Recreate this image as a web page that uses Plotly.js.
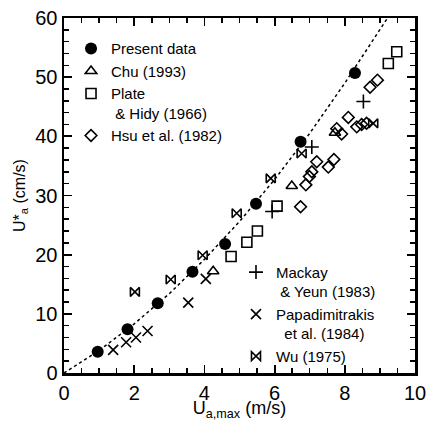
<!DOCTYPE html>
<html>
<head>
<meta charset="utf-8">
<script src="https://cdn.plot.ly/plotly-3.0.1.min.js"></script>
<style>html,body{margin:0;padding:0;background:#fff}#chart{width:429px;height:421px}</style>
</head>
<body>
<div id="chart"></div>
<script>
// Present data (filled circles)
const presentX = [0.96, 1.81, 2.67, 3.66, 4.59, 5.47, 6.74, 8.29];
const presentY = [3.6, 7.4, 11.8, 17.1, 21.8, 28.6, 39.1, 50.7];
// Chu (1993)
const chuX = [4.25, 6.49, 7.72];
const chuY = [17.2, 31.6, 40.6];
// Plate & Hidy (1966)
const plateX = [4.76, 5.21, 5.51, 6.07, 9.24, 9.48];
const plateY = [19.7, 22.1, 24.0, 28.2, 52.3, 54.3];
// Hsu et al. (1982)
const hsuX = [6.74, 6.89, 6.99, 7.06, 7.20, 7.53, 7.69, 7.77, 7.91, 8.10, 8.34, 8.48, 8.62, 8.72, 8.93];
const hsuY = [28.1, 31.8, 33.2, 34.0, 35.7, 34.8, 36.1, 41.3, 40.4, 43.2, 41.6, 42.0, 42.2, 48.3, 49.5];
// Mackay & Yeun (1983)
const mackayX = [5.93, 7.06, 8.53];
const mackayY = [27.3, 38.2, 45.9];
// Papadimitrakis et al. (1984)
const papaX = [1.40, 1.77, 2.05, 2.38, 3.54, 4.04];
const papaY = [3.9, 5.2, 6.0, 7.1, 11.9, 15.9];
// Wu (1975)
const wuX = [2.02, 3.04, 3.95, 4.92, 5.89, 6.77, 8.81];
const wuY = [13.7, 15.8, 19.9, 27.0, 32.9, 37.1, 42.2];
// dotted curve
const fitX = [0, 1, 2, 3, 4, 5, 6, 7, 8, 9, 9.24];
const fitY = [0, 3.8, 8.3, 13.4, 19.2, 25.6, 32.7, 40.5, 49.0, 58.0, 60.2];

const names1 = ['Present data', 'Chu (1993)', 'Plate<br>\u00a0& Hidy (1966)', 'Hsu et al. (1982)'];
const names2 = ['Mackay<br>\u00a0& Yeun (1983)', 'Papadimitrakis<br>\u00a0\u00a0et al. (1984)', 'Wu (1975)'];

const K = '#000';
const openMk = (sym, size) => ({symbol: sym, size: size, color: K, line: {color: K, width: 1.6}});

const traces = [
  {x: fitX, y: fitY, mode: 'lines', line: {color: K, width: 1.5, dash: 'dot'}, showlegend: false, hoverinfo: 'skip'},
  {x: presentX, y: presentY, mode: 'markers', name: names1[0], legend: 'legend', marker: {symbol: 'circle', size: 12, color: K}},
  {x: chuX, y: chuY, mode: 'markers', name: names1[1], legend: 'legend', marker: openMk('triangle-up-open', 10)},
  {x: plateX, y: plateY, mode: 'markers', name: names1[2], legend: 'legend', marker: openMk('square-open', 10)},
  {x: hsuX, y: hsuY, mode: 'markers', name: names1[3], legend: 'legend', marker: openMk('diamond-open', 9)},
  {x: mackayX, y: mackayY, mode: 'markers', name: names2[0], legend: 'legend2', marker: openMk('cross-thin-open', 10)},
  {x: papaX, y: papaY, mode: 'markers', name: names2[1], legend: 'legend2', marker: openMk('x-thin-open', 10)},
  {x: wuX, y: wuY, mode: 'markers', name: names2[2], legend: 'legend2', marker: openMk('bowtie-open', 9)}
];

const FONT = 'Liberation Sans, Arial, Helvetica, sans-serif';
const axisCommon = {
  showgrid: false, zeroline: false, showline: true, linecolor: K, linewidth: 2.5,
  mirror: 'allticks', ticks: 'inside', ticklen: 8, tickwidth: 1.8, tickcolor: K,
  tickfont: {family: FONT, size: 20, color: K}
};

const layout = {
  width: 429, height: 421,
  margin: {l: 64, r: 14, t: 18, b: 48},
  paper_bgcolor: '#fff', plot_bgcolor: '#fff',
  font: {family: FONT, color: K},
  xaxis: Object.assign({}, axisCommon, {
    range: [0, 10], dtick: 2, tick0: 0,
    minor: {dtick: 0.5, ticklen: 5, tickwidth: 1.5, tickcolor: K, ticks: 'inside'},
    title: {text: 'U<sub>a,max</sub> (m/s)', font: {family: FONT, size: 18, color: K}, standoff: 6}
  }),
  yaxis: Object.assign({}, axisCommon, {
    range: [0, 60], dtick: 10, tick0: 0,
    minor: {dtick: 2, ticklen: 5, tickwidth: 1.5, tickcolor: K, ticks: 'inside'},
    title: {text: 'U*<sub>a</sub> (cm/s)', font: {family: FONT, size: 16, color: K}, standoff: 6}
  }),
  legend: {x: 0.02, y: 0.96, xanchor: 'left', yanchor: 'top', bgcolor: 'rgba(0,0,0,0)',
    font: {family: FONT, size: 15, color: K}, valign: 'top', itemwidth: 30, tracegroupgap: 0},
  legend2: {x: 0.49, y: 0.33, xanchor: 'left', yanchor: 'top', bgcolor: 'rgba(0,0,0,0)',
    font: {family: FONT, size: 15, color: K}, valign: 'top', itemwidth: 30, tracegroupgap: 0},
  showlegend: true
};

Plotly.newPlot('chart', traces, layout, {displayModeBar: false, staticPlot: true});
</script>
</body>
</html>
